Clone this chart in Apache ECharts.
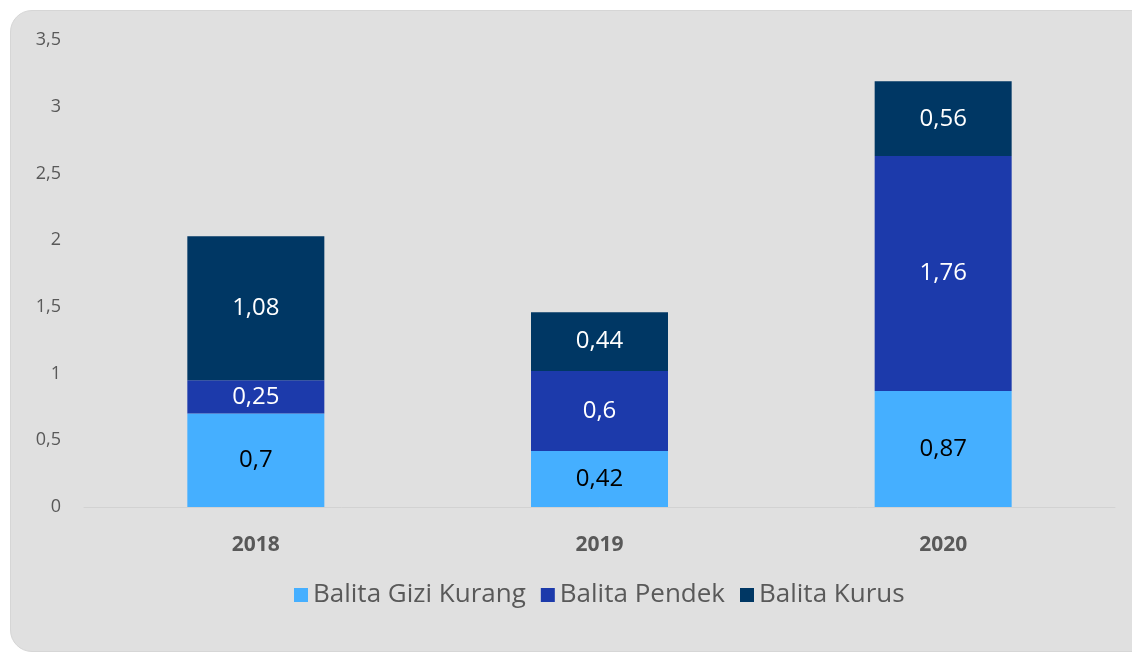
<!DOCTYPE html>
<html>
<head>
<meta charset="utf-8">
<script src="https://cdn.jsdelivr.net/npm/echarts@6/dist/echarts.min.js"></script>
<style>
  html, body { margin: 0; padding: 0; background: #ffffff; overflow: hidden; }
  #panel {
    position: absolute; left: 10px; top: 10px; width: 1150px; height: 640px;
    background: #e0e0e0; border: 1px solid #d6d6d6; border-radius: 22px;
  }
  #chart { position: absolute; left: 0; top: 0; width: 1132px; height: 652px; }
</style>
</head>
<body>
<div id="panel"></div>
<div id="chart"></div>
<script>
var years = ["2018", "2019", "2020"];
var giziKurang = [0.7, 0.42, 0.87];
var pendek = [0.25, 0.6, 1.76];
var kurus = [1.08, 0.44, 0.56];
var seriesNames = ["Balita Gizi Kurang", "Balita Pendek", "Balita Kurus"];
var colors = ["#45afff", "#1c3aab", "#003764"];

var font = "Open Sans";
function comma(v) { return String(v).replace(".", ","); }

var chart = echarts.init(document.getElementById("chart"));

function bar(name, data, color, labelColor) {
  return {
    name: name,
    type: "bar",
    stack: "total",
    data: data,
    barWidth: 137,
    itemStyle: { color: color },
    label: {
      show: true,
      position: "inside",
      color: labelColor,
      fontFamily: font,
      fontSize: 24,
      formatter: function (p) { return comma(p.value); }
    }
  };
}

chart.setOption({
  animation: false,
  color: colors,
  grid: { left: 84, right: 17, top: 40, bottom: 145, containLabel: false },
  legend: {
    bottom: 39,
    left: 289,
    itemWidth: 14,
    itemHeight: 14,
    itemGap: 15,
    icon: "rect",
    textStyle: { color: "#595959", fontFamily: font, fontSize: 26 },
    data: seriesNames
  },
  xAxis: {
    type: "category",
    data: years,
    axisLine: { lineStyle: { color: "#d2d2d2", width: 1 } },
    axisTick: { show: false },
    axisLabel: { color: "#595959", fontFamily: font, fontSize: 21, fontWeight: "bold", margin: 28 }
  },
  yAxis: {
    type: "value",
    min: 0,
    max: 3.5,
    interval: 0.5,
    splitLine: { show: false },
    axisLine: { show: false },
    axisTick: { show: false },
    axisLabel: {
      color: "#595959", fontFamily: font, fontSize: 18, margin: 23,
      formatter: function (v) { return comma(v); }
    }
  },
  series: [
    bar(seriesNames[0], giziKurang, colors[0], "#000000"),
    bar(seriesNames[1], pendek, colors[1], "#ffffff"),
    bar(seriesNames[2], kurus, colors[2], "#ffffff")
  ]
});
</script>
</body>
</html>
